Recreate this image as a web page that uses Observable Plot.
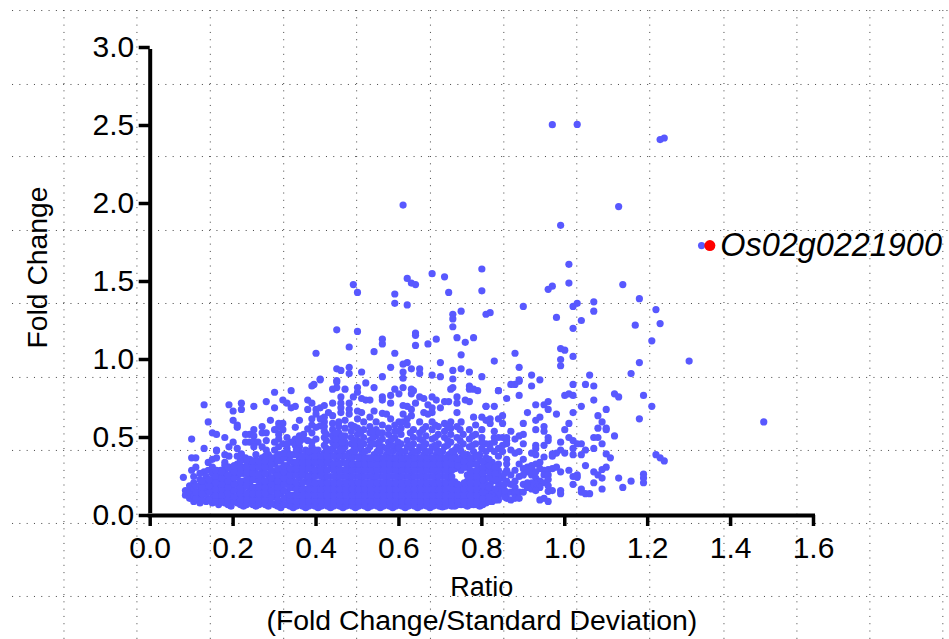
<!DOCTYPE html>
<html>
<head>
<meta charset="utf-8">
<script src="https://cdn.jsdelivr.net/npm/d3@7"></script>
<script src="https://cdn.jsdelivr.net/npm/@observablehq/plot@0.6"></script>
<style>
html,body{margin:0;padding:0;background:#fff}
svg{display:block}
</style>
</head>
<body>
<div id="chart"></div>
<script>
const xTicks = [0,0.2,0.4,0.6,0.8,1.0,1.2,1.4,1.6];
const yTicks = [0,0.5,1.0,1.5,2.0,2.5,3.0];
const gridX = [-0.208,-0.032,0.145,0.322,0.498,0.676,0.853,1.029,1.205,1.384,1.56,1.736,1.912];
const gridY = [3.237,2.763,2.301,1.827,1.359,0.885,0.417,-0.051,-0.519];
const highlight = [[1.35,1.73]];
const highlightName = "Os02g0221900";

const sparseUpper = [[.97,2.505],[1.03,2.507],[1.23,2.41],[1.24,2.42],[.61,1.99],[1.13,1.98],[.99,1.86],[1.33,1.73],
[1.01,1.61],[.80,1.58],[.80,1.44],[.96,1.45],[.97,1.47],[1.01,1.49],[1.14,1.48],[1.18,1.39],[1.22,1.32],[.90,1.34],
[.81,1.29],[.82,1.30],[.98,1.27],[1.02,1.34],[1.03,1.36],[1.07,1.37],[1.07,1.31],[1.04,1.25],[.49,1.48],[.50,1.43],
[.59,1.42],[.59,1.36],[.62,1.52],[.63,1.49],[.64,1.48],[.62,1.35],[.68,1.55],[.71,1.53],[.72,1.43],[.75,1.31],
[.73,1.29],[.73,1.26],[.73,1.21],[.45,1.19],[.50,1.18],[.64,1.17],[.64,1.155],[.74,1.14],[.78,1.14],[.69,1.13],
[.56,1.13],[.56,1.10],[.76,1.11],[.67,1.10],[.48,1.08],[.64,1.09],[.54,1.05],[.59,1.04],[.40,1.04],[.75,1.03],
[.83,.99],[.70,.98],[.62,.98],[.61,.97],[.58,.95],[.48,.95],[.45,.94],[.46,.93],[.51,.92],[.48,.91],[.63,.94],
[.61,.92],[.65,.94],[.65,.91],[.73,.93],[.75,.94],[.77,.92],[.68,.90],[.70,.89],[.80,.89],[.56,.89],[.61,.88],
[.73,.875],[.41,.875],[.45,.865],[1.23,1.23],[1.17,1.22],[1.02,1.20],[1.21,1.12],[.99,1.07],[1.00,1.06],[.88,1.04],
[1.02,1.02],[.99,1.0],[.99,.96],[1.30,.99],[1.18,.98],[.89,.95],[.92,.90],[1.06,.90],[1.16,.91],[.89,.87],[.94,.87]];

const sparseRight = [[.89,.86],[.88,.84],[.87,.84],[.92,.83],[1.02,.84],[1.05,.84],[1.07,.83],[.84,.80],[.89,.77],[.86,.75],
[1.00,.77],[1.01,.78],[1.02,.77],[1.12,.78],[1.13,.76],[1.19,.77],[1.07,.74],[1.21,.70],[.96,.73],[.95,.71],[.96,.68],
[.93,.71],[1.04,.70],[1.10,.68],[.83,.70],[.81,.70],[.91,.66],[.98,.65],[1.02,.66],[1.08,.64],[1.18,.62],[1.48,.60],
[.94,.63],[.93,.61],[1.09,.60],[1.01,.59],[.85,.64],[.84,.62],[.85,.59],[.82,.62],[.82,.59],[.90,.59],[.95,.57],[.95,.54],
[.93,.55],[1.00,.55],[1.08,.56],[1.10,.56],[1.10,.55],[.87,.54],[.83,.54],[.90,.52],[.89,.51],[.88,.49],[.96,.50],[.96,.48],
[1.01,.50],[1.02,.48],[1.04,.46],[1.03,.46],[1.07,.50],[1.08,.50],[1.12,.51],[.99,.47],[1.09,.46],[.90,.46],[.93,.45],
[.93,.43],[.95,.45],[1.07,.43],[1.05,.42],[1.02,.43],[1.02,.39],[.99,.42],[.98,.40],[.97,.395],[.97,.38],[1.00,.40],
[1.04,.39],[1.10,.395],[1.11,.37],[1.22,.39],[1.23,.37],[1.24,.35],[.92,.40],[.93,.39],[.95,.375],[.87,.42],[.88,.40],
[.89,.41],[.83,.50],[.84,.50],[.85,.50],[.86,.50],[.86,.48],[.86,.46],[.85,.45],[.83,.47],[.82,.46],[.84,.43],[.82,.43],
[.81,.46],[.80,.47],[.81,.41],[.83,.41],[.85,.41],[.84,.38],[.86,.36],[1.05,.32],[1.10,.31],[1.09,.295],[1.07,.28],
[1.08,.26],[1.09,.24],[1.01,.29],[.98,.31],[.96,.295],[.97,.30],[.95,.29],[.99,.28],[1.03,.26],[1.02,.25],[1.03,.245],
[1.13,.24],[1.16,.22],[1.14,.18],[1.19,.265],[1.19,.24],[1.19,.21],[1.07,.21],[1.02,.20],[1.09,.17],[1.04,.17],[1.04,.15],
[1.05,.14],[1.06,.14],[.99,.16],[.99,.14],[.97,.16],[.96,.155],[.94,.10],[.95,.11],[.96,.09],[.91,.31],[.92,.32],[.93,.33],
[.94,.34],[.90,.36],[.89,.33],[.88,.29],[.86,.33],[.86,.29],[.90,.30],[.91,.28],[.92,.26],[.93,.24],[.94,.22],[.90,.26],
[.89,.25],[.92,.30],[.93,.28],[.94,.30],[.95,.26],[.96,.26],[.96,.23],[.95,.21],[.96,.19],[.93,.20],[.92,.21],[.91,.21],
[.90,.20],[.94,.18],[.92,.17],[.93,.16],[.91,.18],[.88,.22],[.87,.20],[.86,.22],[.85,.24],[.84,.26],[.87,.26],[.88,.18],
[.87,.15],[.86,.14],[.85,.15],[.88,.14],[.89,.15],[.90,.15],[.84,.13],[.83,.12],[.86,.11],[.87,.10],[.88,.11],[.89,.11],
[.82,.15],[.81,.16],[.82,.19],[.84,.18],[.85,.18]];

const sparseMiddle = [[.39,.83],[.395,.84],[.41,.87],[.45,.855],[.45,.82],[.44,.81],[.47,.81],[.50,.82],[.50,.79],[.52,.85],
[.54,.82],[.59,.81],[.60,.78],[.61,.82],[.63,.81],[.635,.80],[.63,.78],[.56,.76],[.56,.74],[.58,.77],[.58,.72],[.65,.76],
[.66,.75],[.68,.76],[.69,.74],[.71,.73],[.72,.73],[.725,.81],[.73,.82],[.77,.83],[.77,.81],[.78,.81],[.79,.80],[.74,.76],
[.74,.72],[.76,.74],[.77,.73],[.84,.80],[.81,.70],[.74,.66],[.46,.76],[.46,.72],[.46,.69],[.46,.66],[.48,.72],[.48,.68],
[.48,.65],[.51,.75],[.52,.74],[.53,.74],[.49,.76],[.50,.67],[.51,.66],[.34,.80],[.30,.79],[.32,.74],[.33,.72],[.34,.69],
[.35,.70],[.28,.73],[.25,.70],[.30,.69],[.22,.72],[.22,.68],[.20,.67],[.19,.71],[.13,.71],[.14,.60],[.20,.61],[.21,.58],
[.21,.565],[.38,.74],[.39,.72],[.38,.68],[.40,.68],[.41,.69],[.42,.705],[.44,.72],[.43,.66],[.44,.64],[.36,.61],[.29,.61],
[.39,.62],[.40,.65],[.42,.63],[.42,.60],[.27,.57],[.31,.59],[.32,.59],[.31,.565],[.30,.55],[.32,.55],[.31,.52],[.31,.49],
[.25,.55],[.23,.52],[.24,.52],[.25,.51],[.27,.53],[.28,.53],[.15,.53],[.16,.52],[.18,.50],[.10,.49],[.20,.47],[.19,.44],
[.21,.43],[.16,.42],[.13,.43],[.23,.47],[.24,.47],[.25,.47],[.26,.47],[.28,.48],[.30,.47],[.32,.46],[.30,.42],[.31,.44],
[.25,.44],[.27,.44],[.28,.42],[.35,.49],[.36,.51],[.37,.52],[.38,.555],[.39,.58],[.35,.565],[.34,.47],[.35,.45],[.37,.49],
[.38,.48],[.40,.49],[.41,.62],[.41,.575],[.40,.565],[.10,.37],[.11,.37],[.11,.31],[.10,.29],[.08,.245],[.15,.36],[.16,.415],
[.14,.34],[.16,.37],[.18,.39],[.19,.38],[.21,.38],[.22,.395],[.23,.37],[.24,.36],[.13,.28],[.14,.29],[.16,.29],[.18,.32],
[.17,.29],[.19,.31],[.53,.63],[.54,.67],[.56,.655],[.57,.65],[.58,.62],[.60,.60],[.61,.60],[.62,.62],[.61,.65],[.63,.64],
[.62,.70],[.63,.68],[.61,.705],[.64,.72],[.66,.66],[.67,.71],[.68,.69],[.68,.66],[.67,.65],[.70,.69],[.75,.60],[.78,.63],
[.80,.63],[.81,.61]];

const shoulderColumns = [
[.33,[.43,.46,.50]],[.36,[.44,.47]],[.39,[.44,.47,.53]],[.42,[.45,.50,.54,.57]],[.44,[.43,.47,.51,.55,.59]],
[.455,[.45,.49,.53,.57,.60]],[.47,[.44,.47,.51,.56,.61]],[.485,[.46,.50,.54,.58]],[.50,[.44,.48,.52,.56,.62]],
[.515,[.46,.50,.55,.60]],[.53,[.44,.48,.53,.57]],[.545,[.46,.51,.55,.60]],[.56,[.44,.49,.53,.58]],
[.575,[.47,.52,.56]],[.59,[.44,.50,.54,.58]],[.605,[.46,.52,.56]],[.62,[.44,.48,.58]],[.635,[.46,.50,.55]],
[.65,[.44,.49,.53,.60]],[.665,[.46,.51,.57]],[.68,[.44,.49,.55,.60]],[.695,[.46,.52,.57]],[.71,[.44,.50,.54,.59]],
[.725,[.47,.52,.56,.60]],[.74,[.44,.50,.57]],[.755,[.46,.52]],[.77,[.44,.49,.55]],[.785,[.46,.52,.58]],[.80,[.43,.50,.55]],
[.425,[.43,.48,.52]],[.4475,[.45,.49,.53]],[.4625,[.43,.47,.51]],[.4925,[.44,.48,.57]],[.5075,[.43,.47,.53]],
[.5375,[.46,.50,.54]],[.5525,[.43,.47,.53]],[.5825,[.45,.49]],[.5975,[.43,.47,.54]],[.6275,[.45,.53]],
[.6575,[.44,.48,.55]],[.6875,[.45,.50,.58]],[.7175,[.45,.48,.57]],[.7475,[.43,.48,.55]],[.7775,[.45,.51]]];

const denseColumns = [
[.085,[.13,.16]],[.095,[.11,.15,.19]],[.105,[.09,.125,.17,.21,.25]],[.12,[.08,.12,.155,.19,.23,.27]],
[.135,[.09,.135,.17,.21,.25]],[.15,[.08,.115,.15,.19,.23,.27,.31]],[.165,[.07,.11,.145,.18,.22,.26]],
[.18,[.08,.12,.16,.20,.24,.28,.34]],[.195,[.06,.105,.14,.18,.22,.26,.30]],[.21,[.08,.12,.16,.20,.25,.29,.33]],
[.225,[.06,.10,.14,.18,.22,.27,.31,.36]],[.24,[.08,.12,.16,.21,.25,.29,.33]],[.255,[.06,.10,.14,.18,.23,.27,.31,.35,.39]],
[.27,[.08,.12,.16,.20,.24,.29,.33,.37]],[.285,[.06,.10,.14,.18,.22,.26,.31,.35,.39]],[.30,[.07,.12,.16,.20,.24,.28,.33,.37]],
[.315,[.05,.09,.14,.18,.22,.26,.30,.35,.39]],[.33,[.07,.11,.15,.20,.24,.28,.32,.37,.41]],[.345,[.05,.09,.13,.18,.22,.26,.30,.34,.39]],
[.36,[.07,.11,.15,.19,.24,.28,.32,.36,.41]],[.375,[.05,.09,.13,.17,.22,.26,.30,.34,.38,.42]],[.39,[.07,.11,.15,.19,.23,.28,.32,.36,.40]],
[.405,[.05,.09,.13,.17,.21,.26,.30,.34,.38,.42]],[.42,[.07,.11,.15,.19,.23,.27,.32,.36,.40]],[.435,[.05,.09,.13,.17,.21,.25,.30,.34,.38,.42]],
[.45,[.07,.11,.15,.19,.23,.27,.31,.36,.40]],[.465,[.05,.09,.13,.17,.21,.25,.29,.34,.38,.42]],[.48,[.07,.11,.15,.19,.23,.27,.31,.35,.40]],
[.495,[.05,.09,.13,.17,.21,.25,.29,.33,.38,.42]],[.51,[.07,.11,.15,.19,.23,.27,.31,.35,.39]],[.525,[.05,.09,.13,.17,.21,.25,.29,.33,.37,.42]],
[.54,[.07,.11,.15,.19,.23,.27,.31,.35,.39]],[.555,[.05,.09,.13,.17,.21,.25,.29,.33,.37,.41]],[.57,[.07,.11,.15,.19,.23,.27,.31,.35,.39,.43]],
[.585,[.05,.09,.13,.17,.21,.25,.29,.33,.37,.41]],[.60,[.07,.11,.15,.19,.23,.27,.31,.35,.39,.43]],[.615,[.05,.09,.13,.17,.21,.25,.29,.33,.37,.41]],
[.63,[.07,.11,.15,.19,.23,.27,.31,.35,.39,.43]],[.645,[.05,.09,.13,.17,.21,.25,.29,.33,.37,.41]],[.66,[.07,.11,.15,.19,.23,.27,.31,.35,.39,.43]],
[.675,[.05,.09,.13,.17,.21,.25,.29,.33,.37,.41]],[.69,[.07,.11,.15,.19,.23,.27,.31,.35,.39,.43]],[.705,[.055,.095,.13,.17,.21,.25,.29,.33,.37,.41]],
[.72,[.07,.11,.15,.19,.23,.27,.31,.35,.39]],[.735,[.06,.10,.14,.18,.215,.30,.34,.38,.42]],[.75,[.07,.11,.15,.19,.29,.33,.37,.41]],
[.765,[.06,.10,.14,.18,.22,.26,.31,.35,.39]],[.78,[.07,.11,.15,.19,.24,.28,.33,.37,.41]],[.795,[.06,.10,.14,.18,.22,.26,.30,.35,.39]],
[.81,[.08,.12,.16,.20,.24,.29,.33,.37]],[.825,[.09,.14,.22,.26,.30,.34]],[.84,[.10,.15,.21,.24,.29,.33]],[.855,[.12,.16,.20,.27]]];

const denseFillColumns = [
[.11,[.11,.15,.19]],[.125,[.10,.14,.18,.22]],[.1425,[.10,.15,.19,.23]],[.1575,[.09,.13,.17,.21,.25,.29]],[.1725,[.09,.13,.17,.20,.24,.28]],
[.1875,[.07,.10,.14,.18,.22,.26,.31]],[.2025,[.09,.12,.16,.20,.24,.28,.32]],[.2175,[.07,.10,.14,.18,.22,.27,.31,.35]],[.2325,[.07,.10,.14,.19,.23,.27,.31,.35]],
[.2475,[.07,.10,.14,.18,.23,.27,.31,.35]],[.2625,[.07,.10,.14,.18,.22,.26,.31,.35]],[.2775,[.07,.10,.14,.18,.22,.27,.31,.35,.38]],[.2925,[.08,.12,.16,.20,.24,.29,.33,.37]],
[.3075,[.06,.10,.14,.18,.22,.26,.30,.35,.39]],[.3225,[.07,.11,.16,.20,.24,.28,.32,.37,.40]],[.3375,[.06,.10,.13,.18,.22,.26,.30,.35,.39]],[.3525,[.06,.09,.13,.17,.21,.26,.30,.34,.39,.42]],
[.3675,[.06,.09,.13,.17,.21,.26,.30,.34,.38]],[.3825,[.06,.09,.13,.17,.21,.25,.30,.34,.38,.41]],[.3975,[.06,.09,.13,.17,.21,.25,.29,.34,.38,.42]],[.4125,[.06,.09,.13,.17,.21,.25,.29,.34,.38]],
[.4275,[.06,.09,.13,.17,.21,.25,.29,.34,.38,.42]],[.4425,[.06,.09,.13,.17,.21,.25,.29,.33,.38]],[.4575,[.06,.09,.13,.17,.21,.25,.29,.33,.38,.42]],[.4725,[.06,.09,.13,.17,.21,.25,.29,.33,.38]],
[.4875,[.06,.09,.13,.17,.21,.25,.29,.33,.37,.41]],[.5025,[.06,.09,.13,.17,.21,.25,.29,.33,.37]],[.5175,[.06,.09,.13,.17,.21,.25,.29,.33,.37,.41]],[.5325,[.06,.09,.13,.17,.21,.25,.29,.33,.37]],
[.5475,[.06,.09,.13,.17,.21,.25,.29,.33,.37,.41]],[.5625,[.06,.09,.13,.17,.21,.25,.29,.33,.37]],[.5775,[.06,.09,.13,.17,.21,.25,.29,.33,.37,.41]],[.5925,[.06,.09,.13,.17,.21,.25,.29,.33,.37]],
[.6075,[.06,.09,.13,.17,.21,.25,.29,.33,.37,.41]],[.6225,[.06,.09,.13,.17,.21,.25,.29,.33,.37]],[.6375,[.06,.09,.13,.17,.21,.25,.29,.33,.37,.41]],[.6525,[.06,.09,.13,.17,.21,.25,.29,.33,.37]],
[.6675,[.06,.09,.13,.17,.21,.25,.29,.33,.37,.41]],[.6825,[.06,.09,.13,.17,.21,.25,.29,.33,.37]],[.6975,[.06,.09,.13,.17,.21,.25,.29,.33,.37,.41]],[.7125,[.06,.09,.13,.17,.21,.25,.29,.33,.37]],
[.7275,[.06,.09,.13,.17,.21,.25,.29,.33,.37,.41]],[.7425,[.07,.09,.13,.17,.20,.32,.36]],[.7575,[.07,.09,.13,.17,.21,.31,.35,.39]],[.7725,[.07,.09,.13,.17,.21,.25,.29,.33,.37]],
[.7875,[.07,.09,.13,.17,.21,.25,.29,.33,.38]],[.8025,[.07,.11,.15,.19,.23,.27,.31,.35]],[.8175,[.09,.12,.18,.24,.28,.32,.36]],[.8325,[.10,.17,.23,.27,.31]]];

const shoulderPoints = shoulderColumns.flatMap(([x, ys]) => ys.map(y => [x, y]));
const densePoints = [...denseColumns, ...denseFillColumns].flatMap(([x, ys]) => ys.map(y => [x, y]));
const points = [...sparseUpper, ...sparseRight, ...sparseMiddle, ...shoulderPoints, ...densePoints];

const fontFamily = "Liberation Sans, Arial, sans-serif";
const chart = Plot.plot({
  width: 949, height: 639,
  marginLeft: 149.7, marginRight: 136, marginTop: 47, marginBottom: 124,
  style: {fontFamily, background: "#fff", overflow: "visible"},
  x: {domain: [0, 1.6]},
  y: {domain: [0, 3]},
  marks: [
    Plot.ruleX(gridX, {y1: 3.237, y2: -0.795, stroke: "#444", strokeWidth: 1, strokeDasharray: "1 6.3", clip: false}),
    Plot.ruleY(gridY, {x1: -0.332, x2: 1.93, stroke: "#444", strokeWidth: 1, strokeDasharray: "1 6.3", clip: false}),
    Plot.dot(points, {x: d => d[0], y: d => d[1], r: 3.6, fill: "#5858ff", stroke: "none"}),
    Plot.dot(highlight, {x: d => d[0], y: d => d[1], r: 5.5, fill: "#ff0000", stroke: "none"}),
    Plot.text(highlight, {x: d => d[0], y: d => d[1], text: () => highlightName, dx: 10.5, textAnchor: "start", fontSize: 32.4, fontStyle: "italic", fill: "#000"}),
    Plot.ruleX([0], {y1: 0, y2: 3, stroke: "#000", strokeWidth: 4, insetTop: -2, insetBottom: -2}),
    Plot.ruleY([0], {x1: 0, x2: 1.6, stroke: "#000", strokeWidth: 4, insetLeft: -2, insetRight: -2}),
    Plot.axisX({ticks: xTicks, tickFormat: d3.format(".1f"), tickSize: 11, tickPadding: 10, fontSize: 30, strokeWidth: 3.5, label: null, stroke: "#000", color: "#000"}),
    Plot.axisY({ticks: yTicks, tickFormat: d3.format(".1f"), tickSize: 11, tickPadding: 5, fontSize: 30, strokeWidth: 3.5, label: null, stroke: "#000", color: "#000"}),
    Plot.text(["Ratio"], {x: [0.8], frameAnchor: "bottom", dy: 80, fontSize: 27, fill: "#000"}),
    Plot.text(["(Fold Change/Standard Deviation)"], {x: [0.8], frameAnchor: "bottom", dy: 114, fontSize: 28.4, fill: "#000"}),
    Plot.text(["Fold Change"], {y: [1.59], frameAnchor: "left", textAnchor: "middle", dx: -112, rotate: -90, fontSize: 28.3, fill: "#000"})
  ]
});
document.getElementById("chart").appendChild(chart);
</script>
</body>
</html>
